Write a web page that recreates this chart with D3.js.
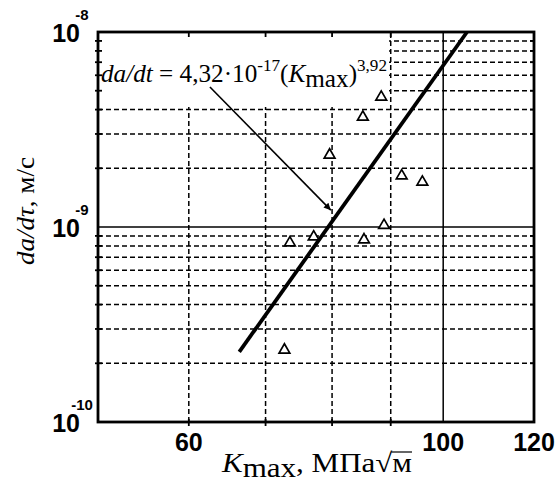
<!DOCTYPE html>
<html>
<head>
<meta charset="utf-8">
<script src="https://cdn.jsdelivr.net/npm/d3@7"></script>
<style>
  body { margin: 0; background: #fff; }
  svg { display: block; }
  .sans { font-family: "Liberation Sans", Arial, sans-serif; font-weight: bold; }
  .serif { font-family: "Liberation Serif", "Times New Roman", serif; }
</style>
</head>
<body>
<div id="chart"></div>
<script>
// measured points, K_max (MPa*sqrt(m)) vs da/dt (m/s)
const kValues = [72.7, 73.5, 77.1, 79.6, 85.3, 85.1, 88.3, 88.8, 92.0, 95.9];
const rateValues = [2.34e-10, 8.3e-10, 8.9e-10, 2.34e-9, 8.6e-10, 3.66e-9, 4.64e-9, 1.02e-9, 1.83e-9, 1.70e-9];

// fitted line ends as drawn
const fitK = [66.4, 104.9];
const fitRate = [2.29e-10, 1e-8];

const xTicks = [60, 100, 120];
const xGridDashed = [60, 70, 80, 90];
const xGridSolid = [100];
const yDecades = [1e-10, 1e-9, 1e-8];
const yExp = ['-10', '-9', '-8'];
const yMinor = [];
[1e-10, 1e-9].forEach(d => { for (let m = 2; m <= 9; m++) yMinor.push(m * d); });

// arrow from label to line
const arrowFrom = [62.6, 5.22e-9];
const arrowTo = [79.8, 1.22e-9];

const width = 556, height = 484;
const margin = { left: 98, top: 32, right: 22, bottom: 62 };

const svg = d3.select('#chart').append('svg')
    .attr('width', width)
    .attr('height', height);

const x = d3.scaleLog().domain([50, 120]).range([margin.left, width - margin.right]);
const y = d3.scaleLog().domain([1e-10, 1e-8]).range([height - margin.bottom, margin.top]);

const x0 = x.range()[0], x1 = x.range()[1];
const y0 = y.range()[0], y1 = y.range()[1];

svg.append('defs').append('marker')
    .attr('id', 'arr')
    .attr('viewBox', '0 0 10 10')
    .attr('refX', 10).attr('refY', 5)
    .attr('markerWidth', 8).attr('markerHeight', 7)
    .attr('markerUnits', 'userSpaceOnUse')
    .attr('orient', 'auto')
    .append('path').attr('d', 'M0,0 L10,5 L0,10 z').attr('fill', '#000');

const grid = svg.append('g');

grid.selectAll('.hmin').data(yMinor).enter().append('line')
    .attr('x1', x0).attr('x2', x1)
    .attr('y1', d => y(d)).attr('y2', d => y(d))
    .attr('stroke', '#000').attr('stroke-width', 1.5)
    .attr('stroke-dasharray', '5,3');

grid.selectAll('.vmin').data(xGridDashed).enter().append('line')
    .attr('x1', d => x(d)).attr('x2', d => x(d))
    .attr('y1', y0).attr('y2', y1)
    .attr('stroke', '#000').attr('stroke-width', 1.5)
    .attr('stroke-dasharray', '5,3');

grid.selectAll('.vsol').data(xGridSolid).enter().append('line')
    .attr('x1', d => x(d)).attr('x2', d => x(d))
    .attr('y1', y0).attr('y2', y1)
    .attr('stroke', '#000').attr('stroke-width', 1.5);

grid.append('line')
    .attr('x1', x0).attr('x2', x1)
    .attr('y1', y(1e-9)).attr('y2', y(1e-9))
    .attr('stroke', '#000').attr('stroke-width', 1.5);

// white box behind the formula
svg.append('rect')
    .attr('x', x0 + 1).attr('y', y1 + 1)
    .attr('width', 290).attr('height', 74)
    .attr('fill', '#fff');

// ticks on the frame
const tk = svg.append('g').attr('stroke', '#000').attr('stroke-width', 1.8);
tk.selectAll('.tl').data(yMinor).enter().append('line')
    .attr('x1', x0 - 3).attr('x2', x0 + 4)
    .attr('y1', d => y(d)).attr('y2', d => y(d));
tk.selectAll('.tr').data(yMinor).enter().append('line')
    .attr('x1', x1 - 4).attr('x2', x1 + 1)
    .attr('y1', d => y(d)).attr('y2', d => y(d));
tk.selectAll('.tb').data(xGridDashed).enter().append('line')
    .attr('x1', d => x(d)).attr('x2', d => x(d))
    .attr('y1', y0 - 3).attr('y2', y0 + 4);
tk.selectAll('.tt').data(xGridDashed).enter().append('line')
    .attr('x1', d => x(d)).attr('x2', d => x(d))
    .attr('y1', y1).attr('y2', y1 + 5);

// fit line
svg.append('path')
    .datum(fitK.map((k, i) => [k, fitRate[i]]))
    .attr('d', d3.line().x(d => x(d[0])).y(d => y(d[1])))
    .attr('stroke', '#000').attr('stroke-width', 3.8)
    .attr('fill', 'none');

// points
svg.selectAll('.pt').data(kValues.map((k, i) => [k, rateValues[i]])).enter()
    .append('path')
    .attr('d', d3.symbol(d3.symbolTriangle, 50))
    .attr('transform', d => `translate(${x(d[0])},${y(d[1])})`)
    .attr('fill', '#fff').attr('stroke', '#000').attr('stroke-width', 1.7);

// frame
svg.append('rect')
    .attr('x', x0).attr('y', y1)
    .attr('width', x1 - x0).attr('height', y0 - y1)
    .attr('fill', 'none').attr('stroke', '#000').attr('stroke-width', 2.8);

// arrow
svg.append('line')
    .attr('x1', x(arrowFrom[0])).attr('y1', y(arrowFrom[1]))
    .attr('x2', x(arrowTo[0])).attr('y2', y(arrowTo[1]))
    .attr('stroke', '#000').attr('stroke-width', 1.6)
    .attr('marker-end', 'url(#arr)');

// formula
const f = svg.append('text').attr('class', 'serif')
    .attr('x', x0 + 3).attr('y', 82)
    .attr('font-size', 25)
    .attr('textLength', 286).attr('lengthAdjust', 'spacingAndGlyphs');
f.append('tspan').attr('font-style', 'italic').text('da/dt');
f.append('tspan').text(' = 4,32·10');
f.append('tspan').attr('dy', -11).attr('font-size', 17).text('-17');
f.append('tspan').attr('dy', 11).text('(');
f.append('tspan').attr('font-style', 'italic').text('K');
f.append('tspan').attr('dy', 5).text('max');
f.append('tspan').attr('dy', -5).text(')');
f.append('tspan').attr('dy', -11).attr('font-size', 17).text('3,92');

// x tick labels
svg.selectAll('.xl').data(xTicks).enter().append('text')
    .attr('class', 'sans')
    .attr('x', d => x(d)).attr('y', 451)
    .attr('text-anchor', 'middle')
    .attr('font-size', 25)
    .text(d => d);

// y tick labels 10^n
const yl = svg.selectAll('.yl').data(yDecades).enter().append('g');
yl.append('text').attr('class', 'sans')
    .attr('x', 80).attr('y', d => y(d) + 10)
    .attr('text-anchor', 'end')
    .attr('font-size', 25)
    .text('10');
yl.append('text').attr('class', 'sans')
    .attr('x', 82).attr('y', d => y(d) - 12)
    .attr('text-anchor', 'middle')
    .attr('font-size', 15)
    .text((d, i) => yExp[i]);

// x title
const xt = svg.append('text').attr('class', 'serif')
    .attr('x', 222).attr('y', 472)
    .attr('font-size', 27)
    .attr('textLength', 190).attr('lengthAdjust', 'spacingAndGlyphs');
xt.append('tspan').attr('font-style', 'italic').text('K');
xt.append('tspan').attr('dy', 5).text('max');
xt.append('tspan').attr('dy', -5).text(', МПа√м');

// bar of the root sign over "м"
const xtn = xt.node();
const nChars = xtn.getNumberOfChars();
const rootBox = xtn.getExtentOfChar(nChars - 2);
const lastBox = xtn.getExtentOfChar(nChars - 1);
const barY = rootBox.y + 4;
svg.append('line')
    .attr('x1', rootBox.x + rootBox.width - 1).attr('x2', lastBox.x + lastBox.width)
    .attr('y1', barY).attr('y2', barY)
    .attr('stroke', '#000').attr('stroke-width', 1.2);

// y title
const yt = svg.append('text').attr('class', 'serif')
    .attr('transform', 'translate(34,211) rotate(-90)')
    .attr('text-anchor', 'middle')
    .attr('font-size', 26)
    .attr('textLength', 108).attr('lengthAdjust', 'spacingAndGlyphs');
yt.append('tspan').attr('font-style', 'italic').text('da/dτ');
yt.append('tspan').text(', м/с');
</script>
</body>
</html>
